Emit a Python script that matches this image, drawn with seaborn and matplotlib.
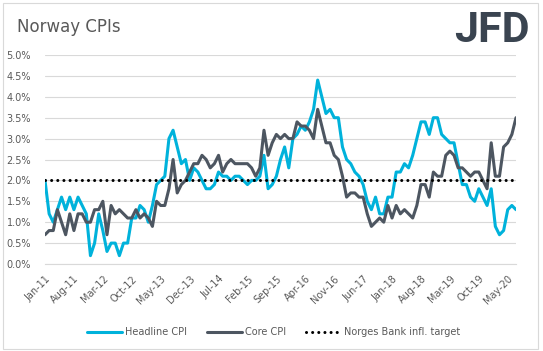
import matplotlib
matplotlib.use("Agg")
import matplotlib.pyplot as plt
from matplotlib.patches import Rectangle
from matplotlib.lines import Line2D
import pandas as pd
import seaborn as sns

# monthly y/y %, Jan-11 .. Jul-20
headline = [2.0, 1.2, 1.0, 1.3, 1.6, 1.3, 1.6, 1.3, 1.6, 1.4, 1.2, 0.2,
            0.5, 1.2, 0.8, 0.3, 0.5, 0.5, 0.2, 0.5, 0.5, 1.1, 1.1, 1.4,
            1.3, 1.0, 1.4, 1.9, 2.0, 2.1, 3.0, 3.2, 2.8, 2.4, 2.5, 2.0,
            2.3, 2.2, 2.0, 1.8, 1.8, 1.9, 2.2, 2.1, 2.1, 2.0, 2.1, 2.1,
            2.0, 1.9, 2.0, 2.0, 2.1, 2.6, 1.8, 1.9, 2.1, 2.5, 2.8, 2.3,
            3.0, 3.1, 3.3, 3.2, 3.4, 3.7, 4.4, 4.0, 3.6, 3.7, 3.5, 3.5,
            2.8, 2.5, 2.4, 2.2, 2.1, 1.9, 1.5, 1.3, 1.6, 1.2, 1.2, 1.6,
            1.6, 2.2, 2.2, 2.4, 2.3, 2.6, 3.0, 3.4, 3.4, 3.1, 3.5, 3.5,
            3.1, 3.0, 2.9, 2.9, 2.4, 1.9, 1.9, 1.6, 1.5, 1.8, 1.6, 1.4,
            1.8, 0.9, 0.7, 0.8, 1.3, 1.4, 1.3]
core = [0.7, 0.8, 0.8, 1.3, 1.0, 0.7, 1.2, 0.8, 1.2, 1.2, 1.0, 1.0,
        1.3, 1.3, 1.5, 0.7, 1.4, 1.2, 1.3, 1.2, 1.1, 1.1, 1.3, 1.1,
        1.2, 1.1, 0.9, 1.5, 1.4, 1.4, 1.8, 2.5, 1.7, 1.9, 2.0, 2.2,
        2.4, 2.4, 2.6, 2.5, 2.3, 2.4, 2.6, 2.2, 2.4, 2.5, 2.4, 2.4,
        2.4, 2.4, 2.3, 2.1, 2.3, 3.2, 2.6, 2.9, 3.1, 3.0, 3.1, 3.0,
        3.0, 3.4, 3.3, 3.3, 3.2, 3.0, 3.7, 3.3, 2.9, 2.9, 2.6, 2.5,
        2.1, 1.6, 1.7, 1.7, 1.6, 1.6, 1.2, 0.9, 1.0, 1.1, 1.0, 1.4,
        1.1, 1.4, 1.2, 1.3, 1.2, 1.1, 1.4, 1.9, 1.9, 1.6, 2.2, 2.1,
        2.1, 2.6, 2.7, 2.6, 2.3, 2.3, 2.2, 2.1, 2.2, 2.2, 2.0, 1.8,
        2.9, 2.1, 2.1, 2.8, 2.9, 3.1, 3.5]
target = [2.0] * len(headline)
tick_labels = ['Jan-11', 'Aug-11', 'Mar-12', 'Oct-12', 'May-13', 'Dec-13',
               'Jul-14', 'Feb-15', 'Sep-15', 'Apr-16', 'Nov-16', 'Jun-17',
               'Jan-18', 'Aug-18', 'Mar-19', 'Oct-19', 'May-20']

df = pd.DataFrame({'m': range(len(headline)), 'headline': headline,
                   'core': core, 'target': target})

sns.set_style('white')
plt.rcParams['font.family'] = ['DejaVu Sans']

txt = '#595959'
blue = '#00B2DB'
grey = '#4D5661'

fig = plt.figure(figsize=(5.43, 3.51), dpi=100)
ax = fig.add_axes([45 / 543, 1 - 264 / 351, 471 / 543, 209 / 351])

sns.lineplot(data=df, x='m', y='headline', color=blue, linewidth=2.2, ax=ax)
sns.lineplot(data=df, x='m', y='core', color=grey, linewidth=2.2, ax=ax)
sns.lineplot(data=df, x='m', y='target', color='black', linewidth=2.2,
             linestyle=(0, (0.01, 2.0)), dash_capstyle='round', ax=ax)

ax.set_xlim(0, len(headline) - 1)
ax.set_ylim(0, 5)
ax.set_yticks([i * 0.5 for i in range(11)])
ax.set_yticklabels([f'{i * 0.5:.1f}%' for i in range(11)])
ax.set_xticks(range(0, 7 * len(tick_labels), 7))
ax.set_xticklabels(tick_labels, rotation=45, ha='right', rotation_mode='anchor')
ax.set_xlabel('')
ax.set_ylabel('')
ax.yaxis.grid(True, color='#D9D9D9', linewidth=0.8)
ax.set_axisbelow(True)
for s in ['top', 'right', 'left']:
    ax.spines[s].set_visible(False)
ax.spines['bottom'].set_color('#D9D9D9')
ax.spines['bottom'].set_linewidth(0.8)
ax.tick_params(axis='y', length=0, pad=10, labelsize=7, labelcolor=txt)
ax.tick_params(axis='x', length=4, width=0.8, color='#D9D9D9', pad=3,
               labelsize=7, labelcolor=txt)

handles = [Line2D([], [], color=blue, lw=2.2),
           Line2D([], [], color=grey, lw=2.2),
           Line2D([], [], color='black', lw=2.2, linestyle=(0, (0.01, 2.0)),
                  dash_capstyle='round')]
fig.legend(handles, ['Headline CPI', 'Core CPI', 'Norges Bank infl. target'],
           loc='center', bbox_to_anchor=(0.504, 0.054), ncol=3, frameon=False,
           fontsize=7, labelcolor=txt, handlelength=3.6, handletextpad=0.35,
           columnspacing=2.0)

fig.text(17 / 543, 1 - 27 / 351, 'Norway CPIs', fontsize=12, color=txt,
         ha='left', va='center')
fig.text(530 / 543, 1 - 30 / 351, 'JFD', fontsize=31, fontweight='bold',
         family='Roboto', color='#3A4450', ha='right', va='center')

fig.patches.append(Rectangle((3 / 543, 2 / 351), 535 / 543, 346 / 351,
                             transform=fig.transFigure, fill=False,
                             edgecolor='#D9D9D9', linewidth=0.8))

fig.savefig('out.png', dpi=100)
